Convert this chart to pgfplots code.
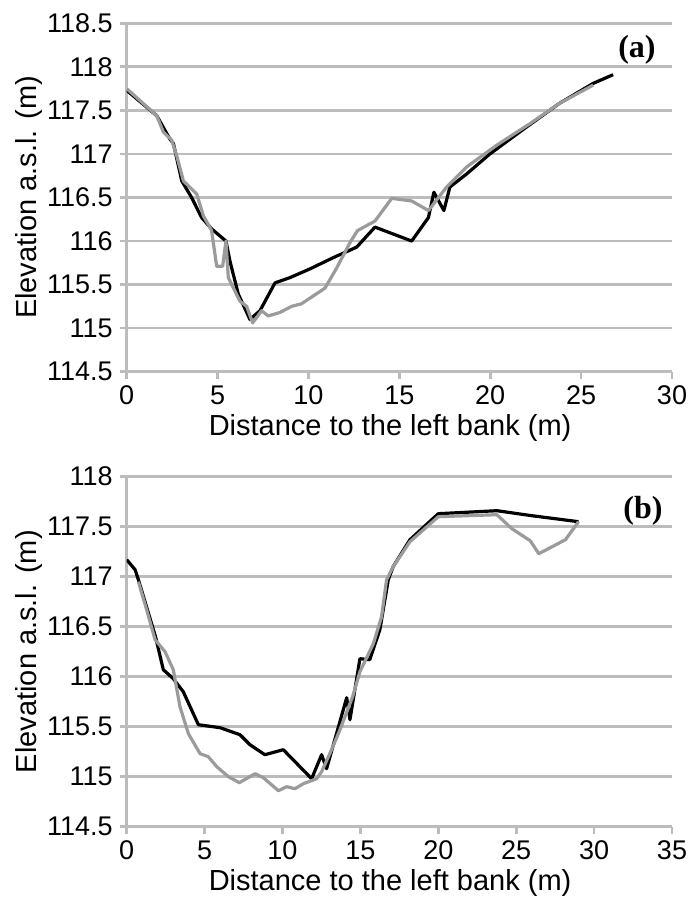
\documentclass[border=0pt]{standalone}
\usepackage{fontspec}
\setmainfont{Liberation Sans}
\newfontfamily\tnr{Liberation Serif}
\usepackage{pgfplots}
\pgfplotsset{compat=1.18}
\definecolor{gridc}{RGB}{188,188,188}
\definecolor{curveg}{RGB}{155,155,155}
\pgfplotsset{
  prof/.style={
    scale only axis, width=272.65pt,
    axis x line*=bottom, axis y line*=left,
    axis line style={draw=gridc, line width=1.35pt, -},
    ymajorgrids, grid style={draw=gridc, line width=1.35pt},
    tick align=outside, major tick length=3.5pt,
    tick style={draw=gridc, line width=1.35pt},
    tick label style={font=\fontsize{13.5}{16}\selectfont, /pgf/number format/assume math mode=true},
    label style={font=\fontsize{14.5}{17}\selectfont},
    xlabel={Distance to the left bank (m)},
    ylabel={Elevation a.s.l. (m)},
    xlabel style={at={(axis description cs:0.483,-0.1817)}, anchor=base},
    ylabel style={at={(axis description cs:-0.179,0.5)}, anchor=center},
    blk/.style={black, line width=1.6pt, line join=round},
    gry/.style={curveg, line width=1.6pt, line join=round},
  }
}
\begin{document}
\begin{tikzpicture}
\useasboundingbox (-63.35pt,-262.65pt) rectangle (281.15pt,185.85pt);
\begin{axis}[prof, at={(0pt,0pt)}, anchor=south west, height=174.2pt,
  xmin=0, xmax=30, ymin=114.5, ymax=118.5,
  xtick={0,5,10,15,20,25,30},
  ytick={114.5,115,115.5,116,116.5,117,117.5,118,118.5}]
\addplot[blk] coordinates {(0,117.73) (1.65,117.44) (2.38,117.17) (2.57,117.12) (3.03,116.69) (3.57,116.5) (4.12,116.27) (4.67,116.14) (5.46,116.0) (5.68,115.77) (6.14,115.39) (6.78,115.1) (7.33,115.2) (8.16,115.52) (8.98,115.58) (10.08,115.68) (11.37,115.81) (12.65,115.93) (13.66,116.16) (15.68,116.0) (16.6,116.27) (16.9,116.56) (17.45,116.35) (17.78,116.62) (18.7,116.77) (19.98,117.0) (22.0,117.31) (23.8,117.58) (25.66,117.81) (26.76,117.91)};
\addplot[gry] coordinates {(0,117.75) (1.65,117.44) (2.02,117.25) (2.47,117.16) (2.75,116.98) (3.12,116.69) (3.85,116.54) (4.22,116.29) (4.67,116.12) (4.95,115.71) (5.28,115.71) (5.46,116.0) (5.59,115.58) (6.23,115.31) (6.6,115.25) (6.93,115.06) (7.42,115.2) (7.79,115.14) (8.43,115.18) (9.07,115.25) (9.62,115.28) (10.27,115.37) (10.91,115.46) (11.55,115.69) (12.28,115.98) (12.7,116.12) (13.66,116.23) (14.58,116.49) (15.68,116.46) (16.6,116.35) (17.6,116.62) (18.7,116.85) (20.35,117.1) (22.2,117.35) (23.8,117.58) (25.66,117.79)};
\node[font=\tnr\bfseries\fontsize{16}{18}\selectfont] at (axis cs:28.07,118.19) {(a)};
\end{axis}
\begin{axis}[prof, at={(0pt,-227.5pt)}, anchor=south west, height=175pt,
  xmin=0, xmax=35, ymin=114.5, ymax=118,
  xtick={0,5,10,15,20,25,30,35},
  ytick={114.5,115,115.5,116,116.5,117,117.5,118}]
\addplot[blk] coordinates {(0,117.17) (0.54,117.07) (0.75,116.97) (1.85,116.4) (2.35,116.07) (2.99,115.98) (3.63,115.85) (4.6,115.52) (5.99,115.49) (7.27,115.42) (7.91,115.32) (8.87,115.22) (10.05,115.27) (11.87,114.98) (12.51,115.22) (12.83,115.08) (14.12,115.79) (14.33,115.57) (14.97,116.18) (15.6,116.17) (16.25,116.47) (16.79,116.97) (17.1,117.1) (18.18,117.37) (20.0,117.63) (23.76,117.66) (26.0,117.61) (29.0,117.55)};
\addplot[gry] coordinates {(0.75,116.95) (1.28,116.67) (1.82,116.37) (2.46,116.25) (2.99,116.07) (3.42,115.7) (3.96,115.43) (4.71,115.23) (5.24,115.2) (5.78,115.1) (6.53,115.0) (7.23,114.94) (8.24,115.03) (8.77,114.99) (9.74,114.86) (10.27,114.9) (10.8,114.88) (11.34,114.93) (12.19,114.98) (12.51,115.05) (13.15,115.27) (13.69,115.47) (14.5,115.8) (14.97,116.05) (15.83,116.33) (16.36,116.6) (16.68,116.97) (17.1,117.1) (18.18,117.35) (20.0,117.6) (23.76,117.62) (24.72,117.48) (25.9,117.36) (26.45,117.23) (28.16,117.37) (29.0,117.55)};
\node[font=\tnr\bfseries\fontsize{16}{18}\selectfont] at (axis cs:33.14,117.66) {(b)};
\end{axis}
\end{tikzpicture}
\end{document}
